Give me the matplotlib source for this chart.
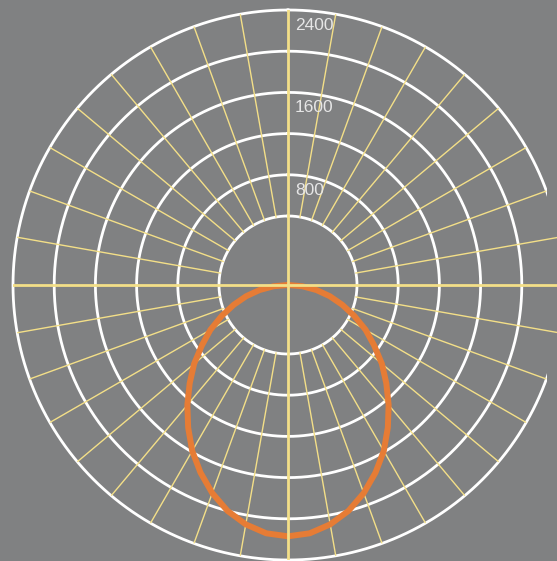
import numpy as np
import matplotlib
matplotlib.use('Agg')
import matplotlib.pyplot as plt
from matplotlib.patches import Rectangle

# datos (angulo en grados, 0 = arriba, sentido horario)
angulos = [90, 95, 100, 105, 110, 115, 120, 125, 130, 135, 140, 145, 150, 155, 160, 165, 170, 175,
           180, 185, 190, 195, 200, 205, 210, 215, 220, 225, 230, 235, 240, 245, 250, 255, 260, 265, 270]
valores = [-270, -130, 10, 150, 290, 440, 600, 750, 920, 1080, 1250, 1420, 1590, 1740, 1880, 2000, 2090, 2150,
           2170, 2150, 2090, 2000, 1880, 1740, 1590, 1420, 1250, 1080, 920, 750, 600, 440, 290, 150, 10, -130, -270]
circulos = [400, 800, 1200, 1600, 2000, 2400]
etiquetas = ['800', '1600', '2400']
r_min = -270
r_max = 2400

gris = '#808182'
amarillo = '#f3df88'
naranja = '#e67c35'

fig = plt.figure(figsize=(5.57, 5.61), dpi=100, facecolor=gris)
ax = fig.add_axes([13/557, 1/561, 550/557, 550/561], projection='polar')
ax.set_facecolor(gris)
ax.set_theta_zero_location('N')
ax.set_theta_direction(-1)
ax.set_rlim(r_min, r_max)
ax.set_yticks([])
ax.set_xticks([])
ax.grid(False)
ax.spines['polar'].set_visible(False)

# circulos blancos (el exterior queda cortado a la derecha en el original)
recorte = Rectangle((0, 0), 5.47, 5.61, transform=fig.dpi_scale_trans, visible=False)
fig.add_artist(recorte)
vuelta = np.linspace(0, 2 * np.pi, 721)
for c in circulos:
    linea, = ax.plot(vuelta, np.full_like(vuelta, c), color='white', linewidth=2, zorder=1)
    if c == r_max:
        linea.set_clip_path(recorte)

# radios finos cada 10 grados
for g in range(0, 360, 10):
    if g % 90 == 0:
        continue
    th = np.deg2rad(g)
    ax.plot([th, th], [circulos[0], r_max], color=amarillo, linewidth=1, zorder=2)

# curva
ax.plot(np.deg2rad(angulos), valores, color=naranja, linewidth=4.3, zorder=3,
        solid_capstyle='round', solid_joinstyle='round')

# ejes principales
for g in [0, 90, 180, 270]:
    th = np.deg2rad(g)
    ax.plot([th, th], [r_min, r_max], color=amarillo, linewidth=2, zorder=4)

for et in etiquetas:
    ax.annotate(et, xy=(0, float(et)), xytext=(5, -11), textcoords='offset points',
                ha='left', va='center', color='#e6e6e6', fontsize=12.5,
                family='Liberation Sans', zorder=5)

fig.savefig('out.png', dpi=100, facecolor=gris)
